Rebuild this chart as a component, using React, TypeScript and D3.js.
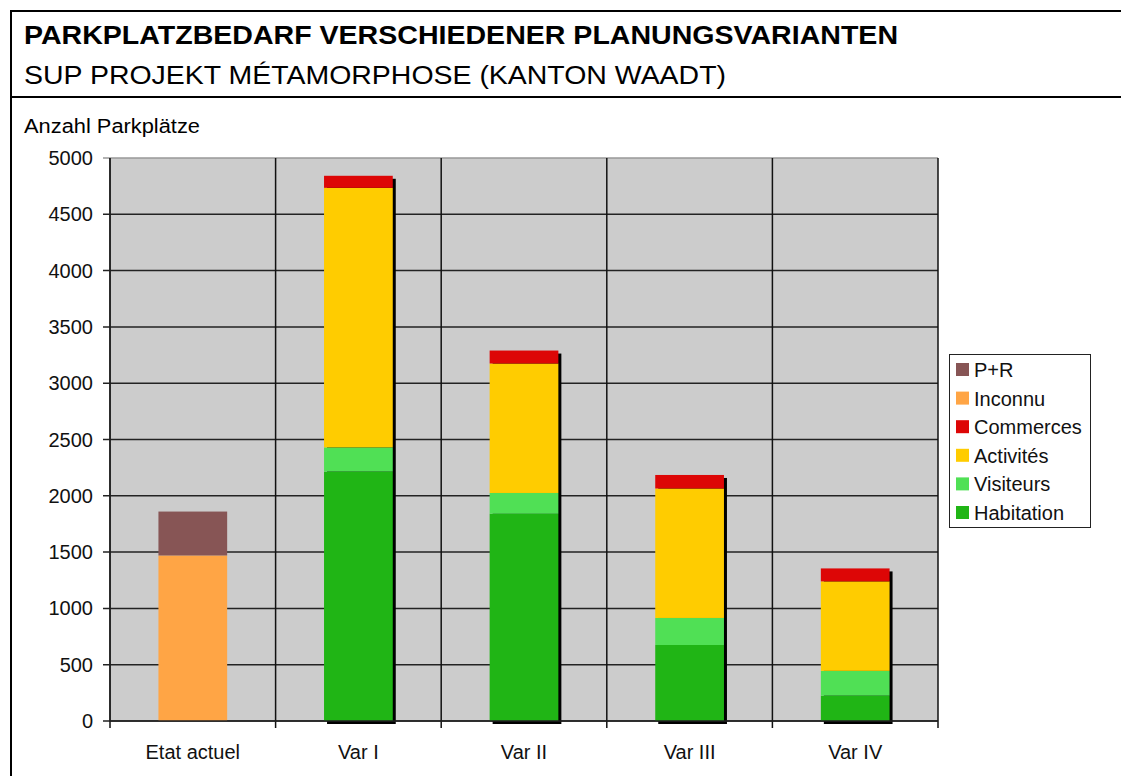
import React from "react";
import * as d3 from "d3";

const categories = ["Etat actuel", "Var I", "Var II", "Var III", "Var IV"];
const seriesNames = ["Habitation", "Visiteurs", "Activités", "Commerces", "Inconnu", "P+R"];
const seriesColors = ["#20b515", "#50e055", "#ffcc00", "#dd0606", "#ffa545", "#875555"];
const habitation = [0, 2215, 1840, 675, 225];
const visiteurs = [0, 215, 185, 240, 220];
const activites = [0, 2305, 1150, 1150, 795];
const commerces = [0, 107, 115, 120, 115];
const inconnu = [1470, 0, 0, 0, 0];
const pr = [390, 0, 0, 0, 0];
const yTicks = [0, 500, 1000, 1500, 2000, 2500, 3000, 3500, 4000, 4500, 5000];
const legendOrder = ["P+R", "Inconnu", "Commerces", "Activités", "Visiteurs", "Habitation"];

const FONT = "'Liberation Sans', Arial, sans-serif";

export default function App() {
  const W = 1121, H = 776;
  const left = 110, right = 938, top = 158, bottom = 721;
  const x = d3.scaleBand().domain(categories).range([left, right]).paddingInner(0).paddingOuter(0);
  const y = d3.scaleLinear().domain([0, 5000]).range([bottom, top]);
  const barW = x.bandwidth() * 0.415;

  const rows = categories.map((c, i) => ({
    cat: c,
    Habitation: habitation[i],
    Visiteurs: visiteurs[i],
    "Activités": activites[i],
    Commerces: commerces[i],
    Inconnu: inconnu[i],
    "P+R": pr[i],
  }));
  const stack = d3.stack<any>().keys(seriesNames)(rows);
  const totals = rows.map((r) => seriesNames.reduce((s, k) => s + (r as any)[k], 0));
  const color = d3.scaleOrdinal<string, string>().domain(seriesNames).range(seriesColors);

  return (
    <svg width={W} height={H} style={{ position: "absolute", left: 0, top: 0 }} fontFamily={FONT}>
      <rect x={0} y={0} width={W} height={H} fill="#fff" />
      {/* frame */}
      <line x1={11} y1={11} x2={W} y2={11} stroke="#000" strokeWidth={2} />
      <line x1={11} y1={10} x2={11} y2={H} stroke="#000" strokeWidth={2} />
      <line x1={11} y1={97} x2={W} y2={97} stroke="#000" strokeWidth={2} />
      <text x={24} y={44} fontSize={26} fontWeight="bold" fill="#000" textLength={874} lengthAdjust="spacingAndGlyphs">PARKPLATZBEDARF VERSCHIEDENER PLANUNGSVARIANTEN</text>
      <text x={24} y={84} fontSize={26} fill="#000" textLength={702} lengthAdjust="spacingAndGlyphs">SUP PROJEKT MÉTAMORPHOSE (KANTON WAADT)</text>
      <text x={24} y={133} fontSize={20} fill="#000" textLength={176} lengthAdjust="spacingAndGlyphs">Anzahl Parkplätze</text>

      {/* plot background */}
      <rect x={left} y={top} width={right - left} height={bottom - top} fill="#cccccc" />
      {/* horizontal grid */}
      {yTicks.map((t) => (
        <g key={t}>
          <line x1={left - 7} x2={right} y1={y(t)} y2={y(t)} stroke={t === 5000 ? "#999" : "#222"} strokeWidth={1.5} />
          <text x={93} y={y(t) + 7} textAnchor="end" fontSize={20} fill="#111">{t}</text>
        </g>
      ))}
      {/* vertical grid */}
      {categories.map((c) => (
        <line key={c} x1={x(c)!} x2={x(c)!} y1={top} y2={bottom + 7} stroke="#111" strokeWidth={1.5} />
      ))}
      <line x1={right} x2={right} y1={top} y2={bottom + 7} stroke="#111" strokeWidth={1.5} />

      {/* shadows */}
      {categories.map((c, i) =>
        i === 0 ? null : (
          <rect key={"s" + c} x={x(c)! + x.bandwidth() / 2 - barW / 2 + 3} y={y(totals[i]) + 3}
            width={barW} height={bottom - y(totals[i])} fill="#000" />
        )
      )}
      {/* bars */}
      {stack.map((s) => (
        <g key={s.key} fill={color(s.key)}>
          {s.map((d, i) =>
            d[1] - d[0] > 0 ? (
              <rect key={i} x={x(categories[i])! + x.bandwidth() / 2 - barW / 2} y={y(d[1])}
                width={barW} height={y(d[0]) - y(d[1])} />
            ) : null
          )}
        </g>
      ))}
      {/* axes */}
      <line x1={left} x2={left} y1={top} y2={bottom} stroke="#222" strokeWidth={1.5} />
      <line x1={left} x2={right} y1={bottom} y2={bottom} stroke="#222" strokeWidth={1.5} />
      {categories.map((c) => (
        <text key={"l" + c} x={x(c)! + x.bandwidth() / 2} y={759} textAnchor="middle" fontSize={20} fill="#111">{c}</text>
      ))}

      {/* legend */}
      <rect x={949.5} y={354.5} width={141} height={173} fill="#fff" stroke="#222" strokeWidth={1} />
      {legendOrder.map((k, i) => (
        <g key={k} transform={`translate(956, ${369.5 + i * 28.6})`}>
          <rect x={0} y={-6.5} width={13} height={13} fill={color(k)} />
          <text x={18} y={7.5} fontSize={20} fill="#111">{k}</text>
        </g>
      ))}
    </svg>
  );
}
